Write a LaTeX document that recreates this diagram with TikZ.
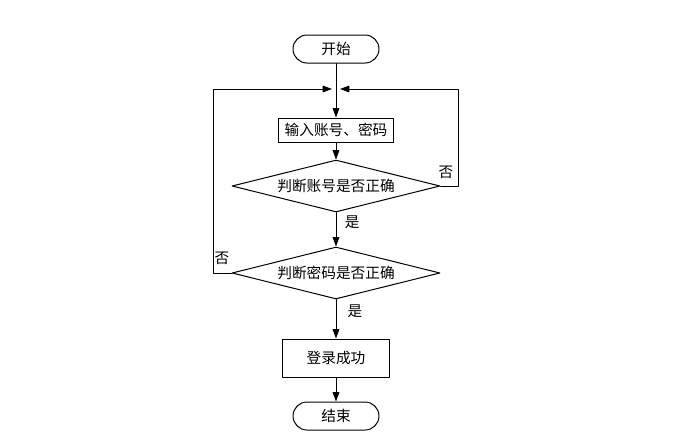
\documentclass[tikz,border=0pt]{standalone}
\usepackage{fontspec}
\setmainfont{Noto Sans CJK SC}
\usetikzlibrary{shapes.geometric,arrows.meta}
\begin{document}
\begin{tikzpicture}[line cap=round, line join=round, x=0.75pt, y=-0.75pt, >={Triangle[length=7pt,width=5pt]}, line width=0.75pt, font=\fontsize{11}{13}\selectfont]
	\tikzset{term/.style={draw, rectangle, rounded corners=10.5pt, minimum width=64.5pt, minimum height=21pt, inner sep=0pt},
		procbox/.style={draw, rectangle, inner sep=0pt},
		decide/.style={draw, diamond, aspect=4, minimum width=156pt, minimum height=39pt, inner sep=0pt}}
	\useasboundingbox[fill=white] (0,0) rectangle (690,436);
	\node[term] (start) at (336,49) {开始};
	\coordinate (J) at (336,89);
	\node[procbox, minimum width=86pt, minimum height=18pt] (input) at (336,130) {输入账号、密码};
	\node[decide] (chkuser) at (336,186) {判断账号是否正确};
	\node[decide] (chkpwd) at (336,273) {判断密码是否正确};
	\node[procbox, minimum width=80pt, minimum height=28.5pt] (ok) at (336,358) {登录成功};
	\node[term] (stop) at (336,416) {结束};
	\coordinate (R) at (458,186);
	\coordinate (L) at (213,273);
	\draw[->] (start)--(input);
	\draw[->] (input)--(chkuser);
	\draw[->] (chkuser)--(chkpwd) node[pos=0.3, right=3pt]{是};
	\draw[->] (chkpwd)--(ok) node[pos=0.3, right=5pt]{是};
	\draw[->] (ok)--(stop);
	\draw[->] (chkuser.east)--(R)|-([xshift=3pt]J);
	\draw[->] (chkpwd.west)--(L)|-([xshift=-3pt]J);
	\node (no1) at (446,172) {否};
	\node (no2) at (222,258) {否};
\end{tikzpicture}
\end{document}
